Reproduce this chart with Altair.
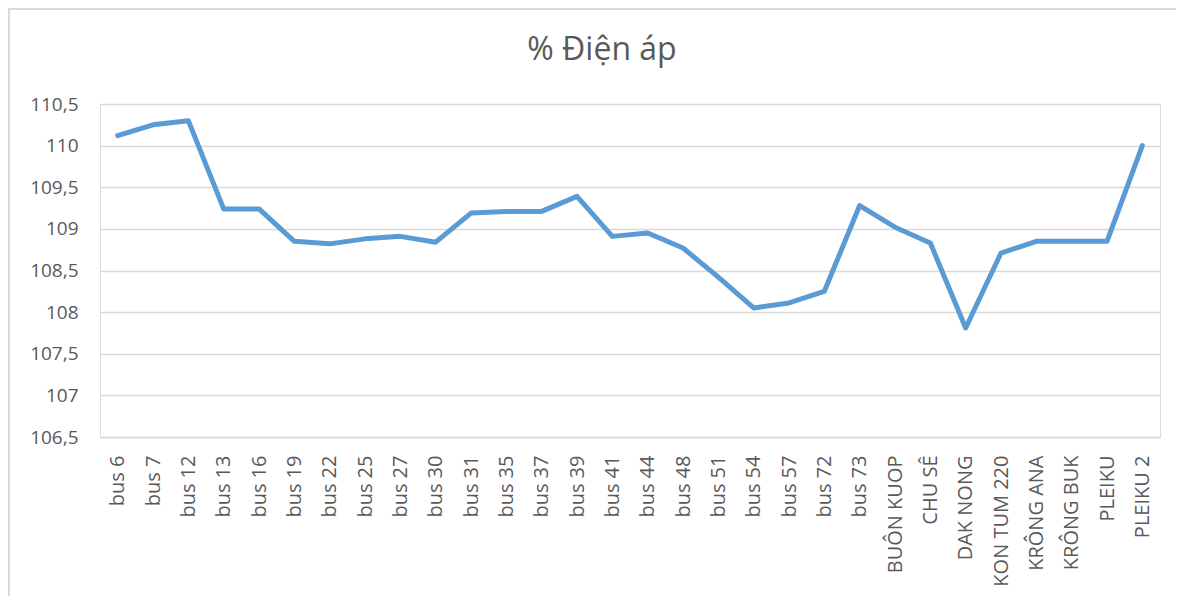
import altair as alt
import pandas as pd

categories = [
    "bus 6", "bus 7", "bus 12", "bus 13", "bus 16", "bus 19", "bus 22", "bus 25",
    "bus 27", "bus 30", "bus 31", "bus 35", "bus 37", "bus 39", "bus 41", "bus 44",
    "bus 48", "bus 51", "bus 54", "bus 57", "bus 72", "bus 73", "BUÔN KUOP",
    "CHU SÊ", "DAK NONG", "KON TUM 220", "KRÔNG ANA", "KRÔNG BUK", "PLEIKU", "PLEIKU 2",
]
values = [
    110.12, 110.25, 110.30, 109.24, 109.24, 108.85, 108.82, 108.88,
    108.91, 108.84, 109.19, 109.21, 109.21, 109.39, 108.91, 108.95,
    108.77, 108.42, 108.05, 108.11, 108.25, 109.28, 109.02,
    108.83, 107.81, 108.71, 108.85, 108.85, 108.85, 110.00,
]
y_ticks = [106.5, 107, 107.5, 108, 108.5, 109, 109.5, 110, 110.5]
title_text = ["% Điện áp"]

df = pd.DataFrame({"bus": categories, "v": values})

FONT = "Open Sans"
GREY = "#595959"
GRID = "#d9d9d9"

line = alt.Chart(df).mark_line(
    color="#5b9bd5", strokeWidth=5, strokeJoin="round", strokeCap="round"
).encode(
    x=alt.X(
        "bus:N",
        sort=categories,
        scale=alt.Scale(type="point", padding=0.5),
        axis=alt.Axis(
            title=None,
            labelAngle=270,
            labelAlign="right",
            labelBaseline="middle",
            labelPadding=18,
            labelFontSize=20,
            labelFont=FONT,
            labelColor=GREY,
            ticks=False,
            domain=True,
            domainColor=GRID,
            domainWidth=1.5,
            grid=False,
            labelOverlap=False,
            labelLimit=300,
        ),
    ),
    y=alt.Y(
        "v:Q",
        scale=alt.Scale(domain=[106.5, 110.5], nice=False, zero=False),
        axis=alt.Axis(
            title=None,
            values=y_ticks,
            labelExpr="replace(toString(datum.value), '.', ',')",
            labelFontSize=19,
            labelFont=FONT,
            labelColor=GREY,
            labelPadding=22,
            ticks=False,
            domain=False,
            grid=True,
            gridColor=GRID,
            gridWidth=1.5,
        ),
    ),
)

border = alt.Chart(pd.DataFrame({"k": [0]})).mark_rect(
    fill="transparent", stroke=GRID, strokeWidth=2
).encode(
    x=alt.value(-91),
    x2=alt.value(3000),
    y=alt.value(-95),
    y2=alt.value(3000),
)

title = alt.Chart(pd.DataFrame({"t": title_text})).mark_text(
    font=FONT, fontSize=32, color=GREY, align="center", baseline="alphabetic"
).encode(
    text="t:N",
    x=alt.value(502),
    y=alt.value(-44),
)

chart = alt.layer(border, line, title).properties(
    width=1060,
    height=333,
    autosize=alt.AutoSizeParams(type="none"),
    padding={"left": 92, "top": 96, "right": 16, "bottom": 159},
).configure_view(stroke=None).configure(background="white")

chart.save("out.html", embed_options={"renderer": "svg", "actions": False})
